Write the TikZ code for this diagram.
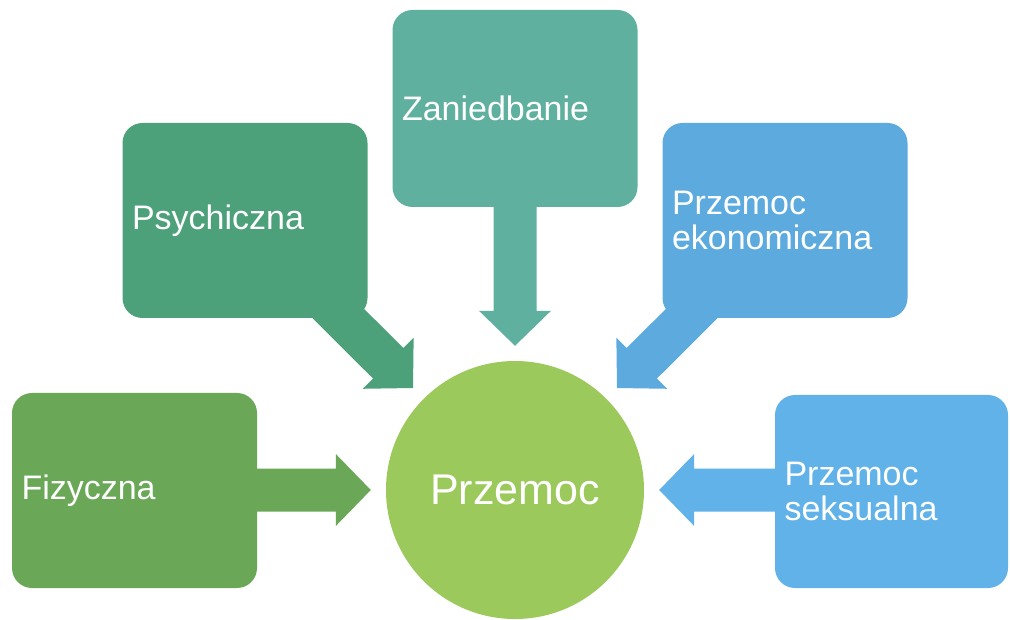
\documentclass[tikz,border=0pt]{standalone}
\usepackage{fontspec}
\setmainfont{Liberation Sans}
\usetikzlibrary{calc,backgrounds}
\definecolor{fizcol}{RGB}{106,168,88}
\definecolor{psycol}{RGB}{76,160,122}
\definecolor{zancol}{RGB}{96,176,160}
\definecolor{ekocol}{RGB}{92,170,222}
\definecolor{sekcol}{RGB}{96,178,232}
\definecolor{circcol}{RGB}{156,201,92}
% block arrow: colour, start coordinate, tip coordinate
\newcommand{\blockarrow}[3]{%
  \coordinate (ba-b) at ($(#3)!35pt!(#2)$);
  \fill[#1] ($(#2)!21.5pt!90:(#3)$) -- ($(ba-b)!21.5pt!-90:(#2)$) -- ($(ba-b)!36pt!-90:(#2)$)
    -- (#3) -- ($(ba-b)!36pt!90:(#2)$) -- ($(ba-b)!21.5pt!90:(#2)$) -- ($(#2)!21.5pt!-90:(#3)$) -- cycle;}
\begin{document}
\begin{tikzpicture}[x=1pt,y=-1pt,
  box/.style={rectangle, rounded corners=20pt, inner xsep=9.5pt, inner ysep=0pt,
    align=left, text=white, font=\fontsize{34pt}{35pt}\selectfont},
  hub/.style={circle, inner sep=0pt, minimum size=258pt, fill=circcol, text=white,
    font=\fontsize{43pt}{45pt}\selectfont}]
\useasboundingbox (0,0) rectangle (1010,620);
\node[box, fill=fizcol, minimum width=245pt, minimum height=195pt, text width=226pt] (fiz) at (134.5,490.5) {Fizyczna};
\node[box, fill=psycol, minimum width=245pt, minimum height=195pt, text width=226pt] (psy) at (245,220.5) {Psychiczna};
\node[box, fill=zancol, minimum width=245pt, minimum height=197pt, text width=226pt] (zan) at (515,108.5) {Zaniedbanie};
\node[box, fill=ekocol, minimum width=245pt, minimum height=195pt, text width=226pt] (eko) at (785,220.5) {Przemoc\\ekonomiczna};
\node[box, fill=sekcol, minimum width=233pt, minimum height=193pt, text width=214pt] (sek) at (891.5,491.5) {Przemoc\\seksualna};
\node[hub] (circ) at (515,490) {Przemoc};
\coordinate (sF) at (fiz.center |- circ.west);
\coordinate (tF) at ($(circ.west)+(-15,0)$);
\coordinate (sS) at (sek.center |- circ.east);
\coordinate (tS) at ($(circ.east)+(15,0)$);
\coordinate (tZ) at ($(circ.north)+(0,-15)$);
\coordinate (tP) at ($(circ.center)+(-102,-102)$);
\coordinate (tE) at ($(circ.center)+(102,-102)$);
\begin{pgfonlayer}{background}
\fill[white] (0,0) rectangle (1010,620);
\blockarrow{fizcol}{sF}{tF}
\blockarrow{psycol}{psy.center}{tP}
\blockarrow{zancol}{zan.center}{tZ}
\blockarrow{ekocol}{eko.center}{tE}
\blockarrow{sekcol}{sS}{tS}
\end{pgfonlayer}
\end{tikzpicture}
\end{document}
